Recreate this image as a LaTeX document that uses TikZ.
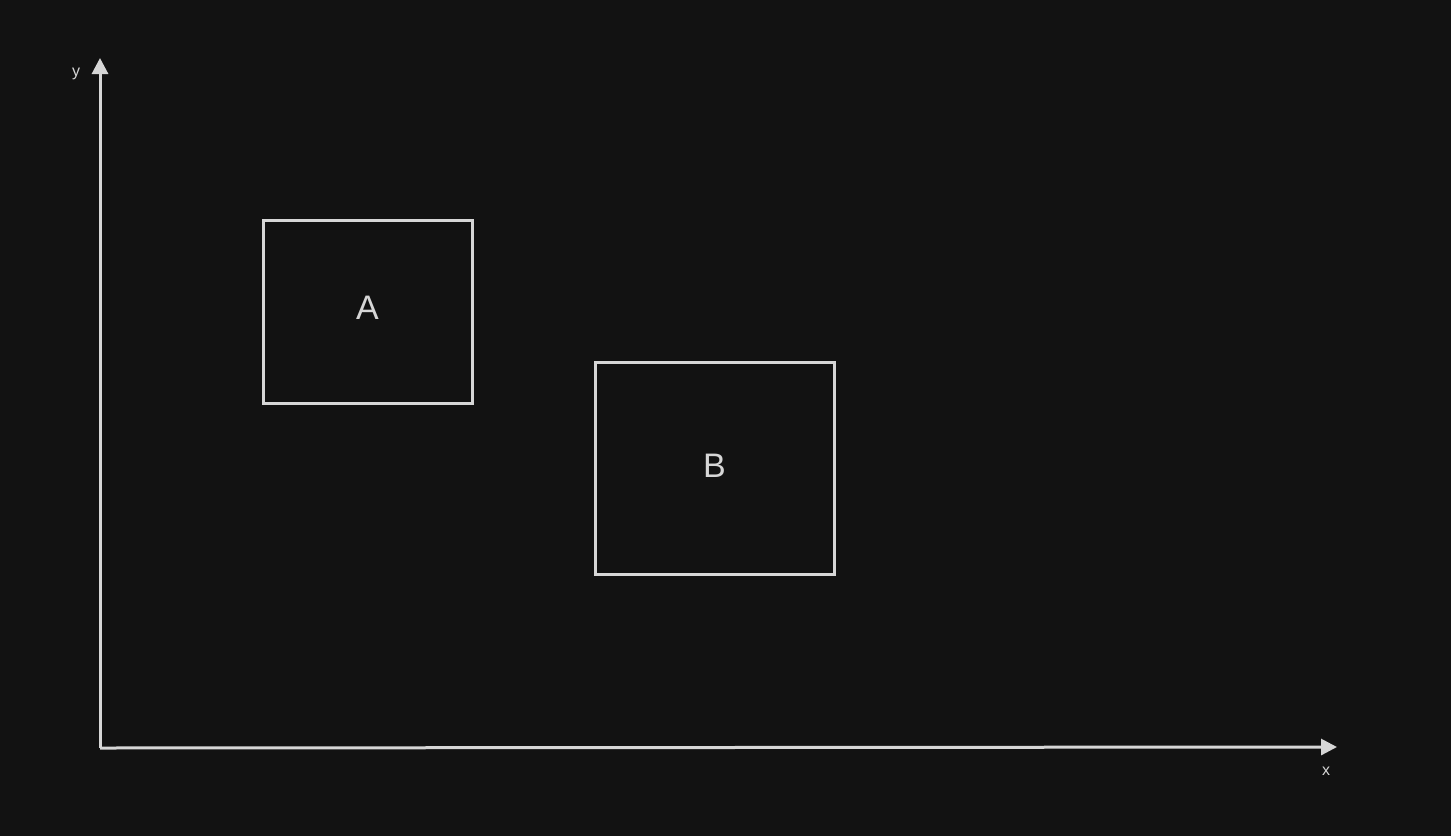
\documentclass[tikz,border=0pt]{standalone}
\usepackage{fontspec}
\setmainfont{Liberation Sans}
\usetikzlibrary{positioning}
\usetikzlibrary{arrows.meta}
\definecolor{bgdark}{HTML}{121212}
\definecolor{chalk}{HTML}{D6D6D6}

\begin{document}
\begin{tikzpicture}[x=0.5pt,y=-0.5pt,
  axis/.style={draw=chalk,line width=1.5pt,
   -{Triangle[length=8pt,width=8pt]}},
  region/.style={draw=chalk,line width=1.5pt,inner sep=0pt,
   minimum width=#1},
  tag/.style={text=chalk,font=\fontsize{17}{20}\selectfont},
  axtag/.style={text=chalk,font=\fontsize{8}{10}\selectfont,inner sep=1pt}]

 \fill[bgdark] (0,0) rectangle (1451,836);
 \useasboundingbox (0,0) rectangle (1451,836);

 \coordinate (origin) at (100,748);
 \coordinate (ytip) at (100,58);
 \coordinate (xtip) at (1337,747);

 \draw[axis] (origin) -- (ytip);
 \draw[axis] (origin) -- (xtip);

 \node[axtag] (laby) at (76,74){y};
 \node[axtag] (labx) at (1326,771){x};

 \node[region=104.5pt, minimum height=91.5pt] (boxa) at (367.5,311.5){};
 \node[region=119.5pt, minimum height=106pt] (boxb) at (714.5,468){};

 \node[tag] (laba) at ([yshift=2pt]boxa.center){A};
 \node[tag] (labb) at ([yshift=1pt]boxb.center){B};
\end{tikzpicture}
\end{document}
